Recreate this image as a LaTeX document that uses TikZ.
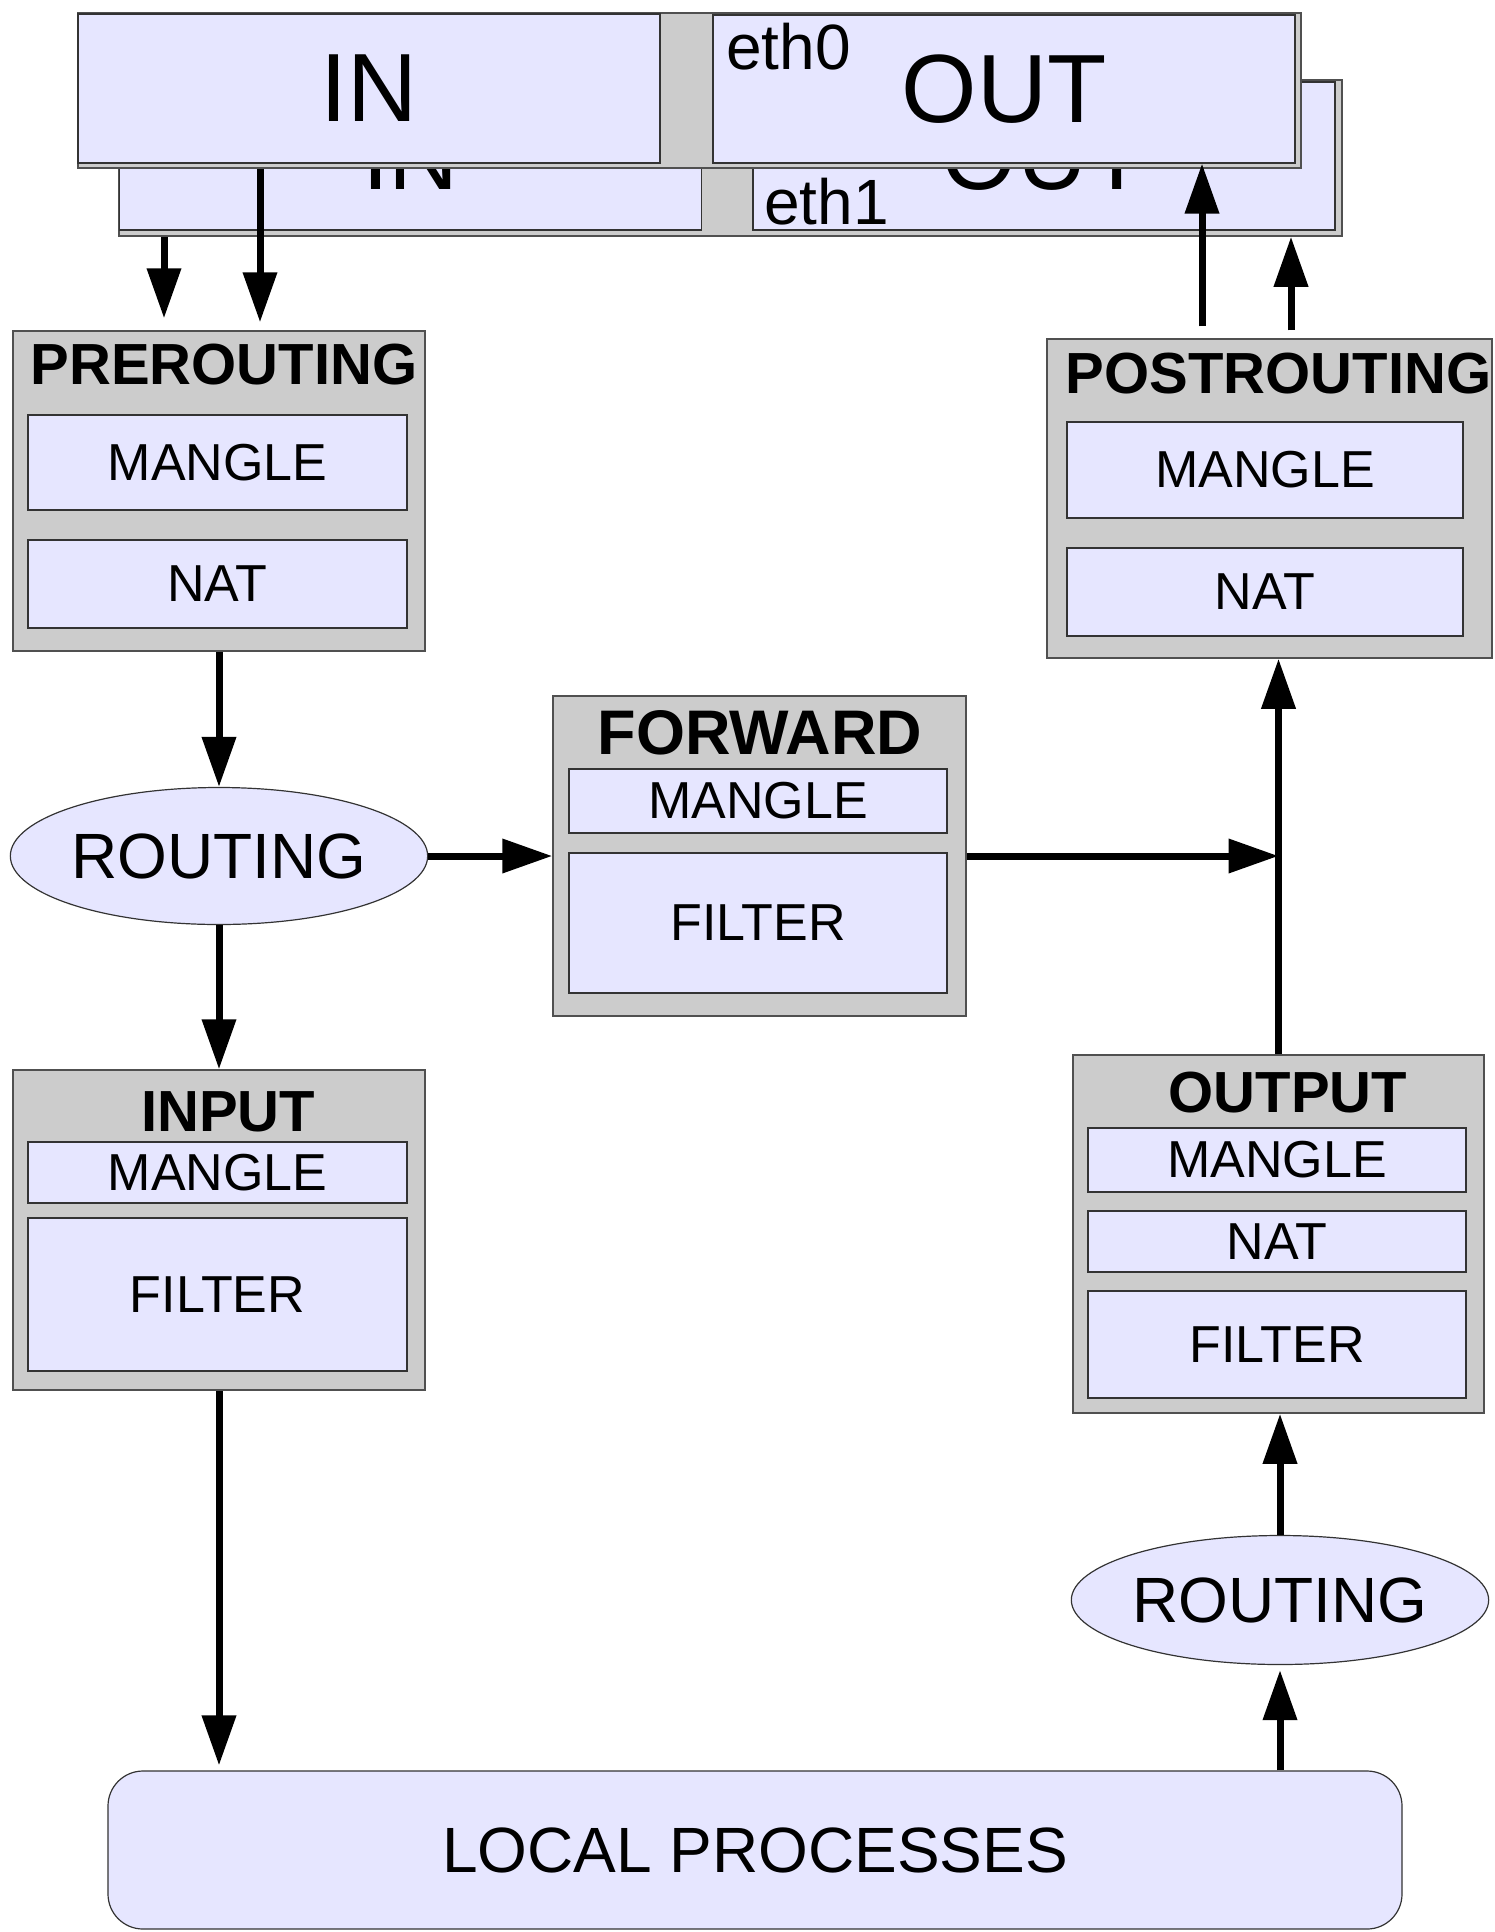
\documentclass[tikz,border=0pt]{standalone}
\usepackage{fontspec}
\setmainfont{Liberation Sans}
\usetikzlibrary{arrows.meta}
\usetikzlibrary{shapes.geometric}
\definecolor{lavande}{RGB}{230,230,255}
\definecolor{grisfond}{RGB}{204,204,204}
\definecolor{bord}{RGB}{80,80,80}

\begin{document}
\begin{tikzpicture}[x=1pt,y=-1pt]
% Styles
\tikzstyle{cadre}=[rectangle,draw=bord,line width=1.5pt,fill=grisfond,inner sep=0pt]
\tikzstyle{tableau}=[rectangle,draw=black!80,line width=1.2pt,fill=lavande,inner sep=0pt,font=\fontsize{52}{60}\selectfont]
\tikzstyle{titre}=[anchor=base,inner sep=0pt,font=\fontsize{58}{66}\selectfont\bfseries]
\tikzstyle{routage}=[ellipse,draw=black!80,line width=1.2pt,fill=lavande,inner sep=0pt,font=\fontsize{64}{72}\selectfont]
\tikzstyle{iface}=[rectangle,draw=black!80,line width=1.2pt,fill=lavande,inner sep=0pt,font=\fontsize{97}{110}\selectfont]
\tikzstyle{eth}=[anchor=base west,inner sep=0pt,font=\fontsize{64}{72}\selectfont]
\tikzstyle{fleche}=[-{Triangle[width=33pt,length=50pt]},line width=7pt]
% Dimensions
\def\Lint{582}
\def\Hint{148}
\def\Lbloc{412}
% Cadre de l'image
\useasboundingbox (0,0) rectangle (1495,1932);
% Interface eth1 (derriere)
\node[cadre,minimum width=1223,minimum height=156] (cadreB) at (730.5,158) {};
\node[iface,minimum width=\Lint,minimum height=\Hint] (inB) at (410.5,156) {IN};
\node[iface,minimum width=\Lint,minimum height=\Hint] (outB) at (1044,156) {OUT};
\node[eth] (eth1) at (764,224) {eth1};
% Interface eth0 (devant)
\node[cadre,minimum width=1223,minimum height=155] (cadreA) at (689.5,90.5) {};
\node[iface,minimum width=\Lint,minimum height=149] (inA) at (369,88.5) {IN};
\node[iface,minimum width=\Lint,minimum height=\Hint] (outA) at (1004,89) {OUT};
\node[eth] (eth0) at (726,70) {eth0};
% PREROUTING
\node[cadre,minimum width=\Lbloc,minimum height=320] (pre) at (219,491) {};
\node[titre] (preT) at (224,384) {PREROUTING};
\node[tableau,minimum width=379,minimum height=95] (preM) at (217.5,462.5) {MANGLE};
\node[tableau,minimum width=379,minimum height=88] (preN) at (217.5,584) {NAT};
% FORWARD
\node[cadre,minimum width=413,minimum height=320] (fwd) at (759.5,856) {};
\node[titre,font=\fontsize{63}{70}\selectfont\bfseries] (fwdT) at (760,754) {FORWARD};
\node[tableau,minimum width=378,minimum height=64] (fwdM) at (758,801) {MANGLE};
\node[tableau,minimum width=378,minimum height=140] (fwdF) at (758,923) {FILTER};
% INPUT
\node[cadre,minimum width=\Lbloc,minimum height=320] (inp) at (219,1230) {};
\node[titre] (inpT) at (228,1131) {INPUT};
\node[tableau,minimum width=379,minimum height=61] (inpM) at (217.5,1172.5) {MANGLE};
\node[tableau,minimum width=379,minimum height=153] (inpF) at (217.5,1294.5) {FILTER};
% OUTPUT
\node[cadre,minimum width=411,minimum height=358] (out) at (1278.5,1234) {};
\node[titre] (outT) at (1288,1112) {OUTPUT};
\node[tableau,minimum width=378,minimum height=64] (outM) at (1277,1160) {MANGLE};
\node[tableau,minimum width=378,minimum height=61] (outN) at (1277,1241.5) {NAT};
\node[tableau,minimum width=378,minimum height=107] (outF) at (1277,1344.5) {FILTER};
% POSTROUTING
\node[cadre,minimum width=445,minimum height=319] (post) at (1269.5,498.5) {};
\node[titre] (postT) at (1278.5,393) {POSTROUTING};
\node[tableau,minimum width=396,minimum height=96] (postM) at (1265,470) {MANGLE};
\node[tableau,minimum width=396,minimum height=88] (postN) at (1265,592) {NAT};
% ROUTING
\node[routage,minimum width=416,minimum height=137] (rt1) at (219,856) {ROUTING};
\node[routage,minimum width=416,minimum height=129] (rt2) at (1280,1600) {ROUTING};
% LOCAL PROCESSES
\node[tableau,rounded corners=35pt,minimum width=1294,minimum height=158,font=\fontsize{64}{72}\selectfont] (local) at (755,1850) {LOCAL PROCESSES};
% Fleches
\coordinate (jonction) at (fwd.east -| out.north);
\draw[fleche,shorten >=12pt] ([xshift=-55pt]pre.north |- cadreB.south) -- ([xshift=-55pt]pre.north);
\draw[fleche,shorten >=8pt] ([xshift=41pt]pre.north |- cadreA.south) -- ([xshift=41pt]pre.north);
\draw[fleche] (pre.south) -- (rt1.north);
\draw[fleche] (rt1.east) -- (fwd.west);
\draw[fleche] (rt1.south) -- (inp.north);
\draw[fleche,shorten >=5pt] (inp.south) -- (inp.south |- local.north);
\draw[fleche,shorten >=5pt] (rt2.south |- local.north) -- (rt2.south);
\draw[fleche] (rt2.north) -- (rt2.north |- out.south);
\draw[fleche] (fwd.east) -- (jonction);
\draw[fleche] (out.north) -- (out.north |- post.south);
\draw[fleche,shorten <=12pt] ([xshift=-67.5pt]post.north) -- ([xshift=-67.5pt]post.north |- outA.south);
\draw[fleche,shorten <=8pt] ([xshift=21.5pt]post.north) -- ([xshift=21.5pt]post.north |- cadreB.south);
\end{tikzpicture}
\end{document}
